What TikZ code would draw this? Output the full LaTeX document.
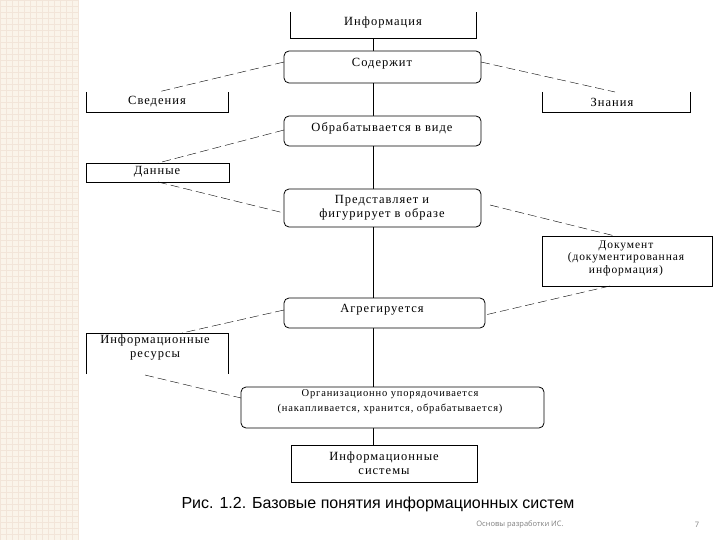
\documentclass[tikz,border=0pt]{standalone}
\usepackage{fontspec}
\setmainfont{Liberation Serif}[LetterSpace=8]
\newfontfamily\uisans{Open Sans}
\newfontfamily\capsans{Liberation Sans}
\begin{document}
\begin{tikzpicture}[x=1pt,y=-1pt,
  rbox/.style={draw,thick,rounded corners=5pt},
  sbox/.style={draw,thick},
  dlink/.style={dashed,dash pattern=on 9pt off 4pt},
  lbl/.style={font=\fontsize{12.5}{14}\selectfont,align=center,inner sep=0pt}]
\useasboundingbox (0,0) rectangle (720,540);
\fill[white] (0,0) rectangle (720,540);
\fill[yellow!12!brown!10!white] (0,0) rectangle (78,540);
\foreach \i in {0,6,...,540} {\draw[brown!20,line width=0.3pt] (0,\i) -- (78,\i);}
\foreach \i in {0,6,...,78} {\draw[brown!20,line width=0.3pt] (\i,0) -- (\i,540);}
% central spine
\coordinate (t0) at (373,38);
\coordinate (t1) at (373,445);
\draw[thick] (t0) -- (t1);
% boxes
\draw[thick,fill=white] (290,12) -- (290,38) -- (476,38) -- (476,12);
\node[lbl] (inf) at (383,22) {Информация};
\draw[rbox,fill=white] (284,51) rectangle (481,83);
\node[lbl] (sod) at (382,64) {Содержит};
\draw[thick] (86,92) -- (86,112) -- (228,112) -- (228,92);
\node[lbl] (sv) at (157,102) {Сведения};
\draw[thick] (542,92) -- (542,112) -- (690,112) -- (690,92);
\node[lbl] (zn) at (612,102) {Знания};
\draw[rbox,fill=white] (284,116) rectangle (481,146);
\node[lbl] (obr) at (382,128) {Обрабатывается в виде};
\draw[sbox] (86,163) rectangle (229,182);
\node[lbl] (dan) at (157,172) {Данные};
\draw[rbox,fill=white] (284,189) rectangle (481,227);
\node[lbl] (pr) at (382,208) {Представляет и\\фигурирует в образе};
\draw[sbox] (542,236) rectangle (712,286);
\node[lbl,font=\fontsize{11.5}{12.5}\selectfont] (doc) at (626,258) {Документ\\(документированная\\информация)};
\draw[rbox,fill=white] (284,298) rectangle (485,328);
\node[lbl] (agr) at (382,310) {Агрегируется};
\draw[thick] (86,374) -- (86,333) -- (228,333) -- (228,374);
\node[lbl] (res) at (155,348) {Информационные\\ресурсы};
\draw[rbox,fill=white] (241,387) rectangle (544,428);
\node[lbl,font=\fontsize{10.5}{15}\selectfont] (org) at (390,402) {Организационно упорядочивается\\(накапливается, хранится, обрабатывается)};
\draw[sbox,fill=white] (291,445) rectangle (477,482);
\node[lbl] (is) at (384,463) {Информационные\\системы};
% dashed links
\draw[dlink] (284,62) -- (158,92);
\draw[dlink] (481,62) -- (615,92);
\draw[dlink] (284,130) -- (158,163);
\draw[dlink] (158,182) -- (284,213);
\draw[dlink] (490,205) -- (615,236);
\draw[dlink] (610,286) -- (485,315);
\draw[dlink] (284,310) -- (182,333);
\draw[dlink] (145,375) -- (241,398);
\node[lbl,font=\capsans\fontsize{16}{18}\selectfont] (cap) at (378,504) {Рис. 1.2. Базовые понятия информационных систем};
\node[lbl,font=\uisans\fontsize{7.5}{9}\selectfont,text=gray] (ft) at (520,525) {Основы разработки ИС.};
\node[lbl,font=\uisans\fontsize{7.5}{9}\selectfont,text=gray] (pg) at (697,525) {7};
\end{tikzpicture}
\end{document}
